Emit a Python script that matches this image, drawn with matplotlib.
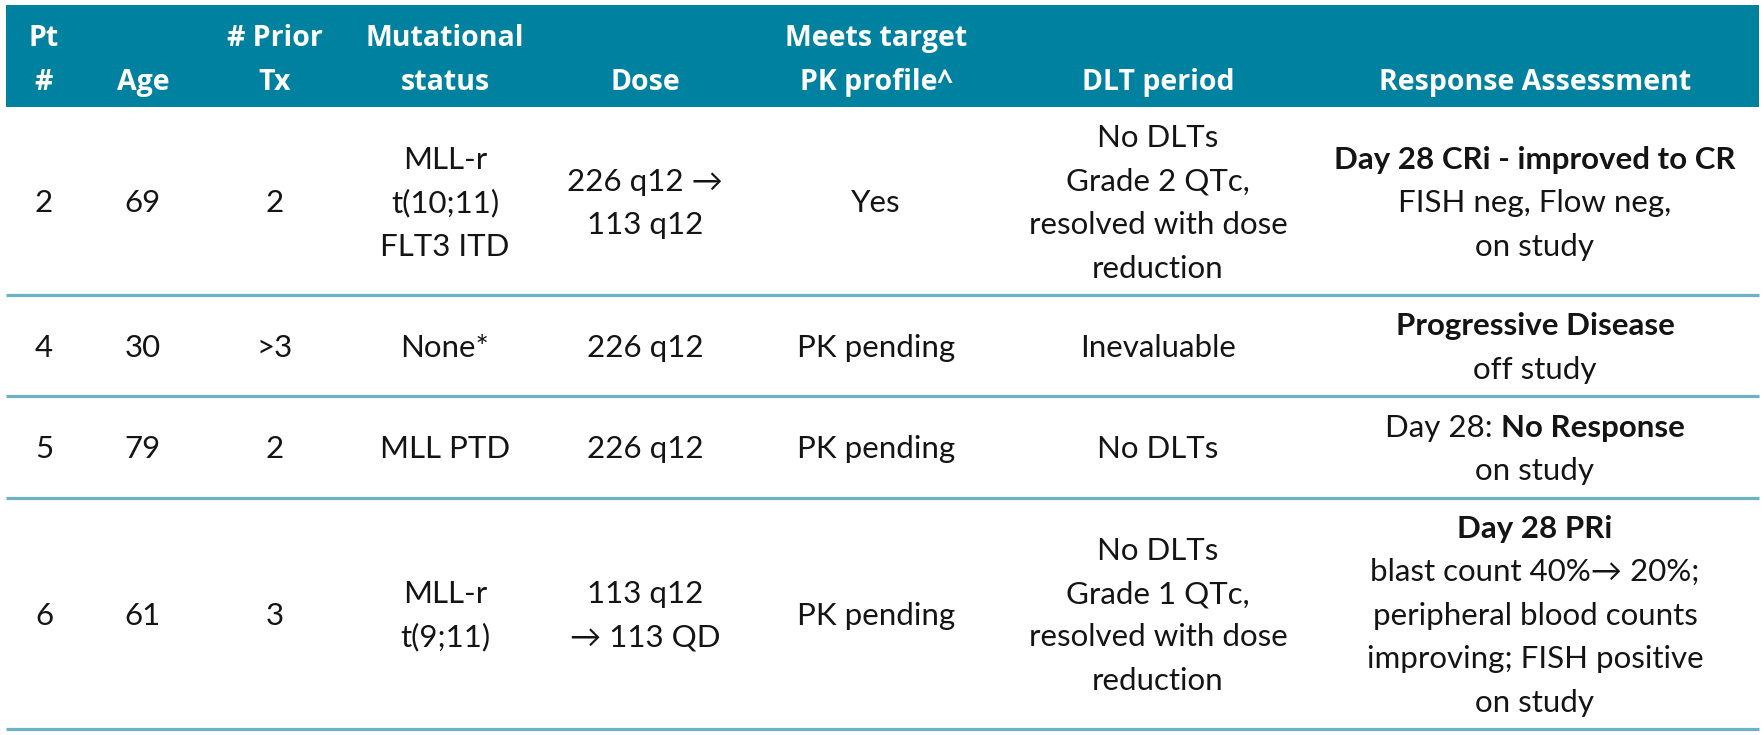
import matplotlib
matplotlib.use("Agg")
import matplotlib.pyplot as plt
from matplotlib.patches import Rectangle

# table content
headers = ["Pt\n#", "\nAge", "# Prior\nTx", "Mutational\nstatus", "\nDose",
           "Meets target\nPK profile^", "\nDLT period", "\nResponse Assessment"]
pt = ["2", "4", "5", "6"]
age = ["69", "30", "79", "61"]
prior_tx = ["2", ">3", "2", "3"]
mutational = ["MLL-r\nt(10;11)\nFLT3 ITD", "None*", "MLL PTD", "MLL-r\nt(9;11)"]
dose = ["226 q12 \u2192\n113 q12", "226 q12", "226 q12", "113 q12\n\u2192 113 QD"]
pk_profile = ["Yes", "PK pending", "PK pending", "PK pending"]
dlt_period = ["No DLTs\nGrade 2 QTc,\nresolved with dose\nreduction",
              "Inevaluable",
              "No DLTs",
              "No DLTs\nGrade 1 QTc,\nresolved with dose\nreduction"]
response = ["**Day 28 CRi - improved to CR**\nFISH neg, Flow neg,\non study",
            "**Progressive Disease**\noff study",
            "Day 28: **No Response**\non study",
            "**Day 28 PRi**\nblast count 40%\u2192 20%;\nperipheral blood counts\nimproving; FISH positive\non study"]
columns = [pt, age, prior_tx, mutational, dose, pk_profile, dlt_period, response]

# layout (pixels)
W, H = 1765, 735
col_x = [44, 143, 275, 445, 645, 876, 1158, 1535]
head_top, head_bot = 5, 107
row_lines = [295, 396, 498, 729]
left, right = 6, 1759
line_gap = 43.5

HEAD_BG = "#00819F"
RULE = "#6DB2C4"
INK = "#141414"
BODY_FONT = ["Lato", "DejaVu Sans"]
HEAD_FONT = ["Open Sans", "DejaVu Sans"]
BODY_SIZE = 22.5
HEAD_SIZE = 20.5

fig = plt.figure(figsize=(W / 100, H / 100), dpi=100)
ax = fig.add_axes([0, 0, 1, 1])
ax.set_xlim(0, W)
ax.set_ylim(H, 0)
ax.axis("off")
renderer = fig.canvas.get_renderer()

ax.add_patch(Rectangle((left, head_top), right - left, head_bot - head_top,
                       facecolor=HEAD_BG, edgecolor="none"))
for y in row_lines:
    ax.plot([left, right], [y, y], color=RULE, lw=2.3, solid_capstyle="butt")

# header
for x, h in zip(col_x, headers):
    for k, line in enumerate(h.split("\n")):
        if line:
            ax.text(x, 38 + k * 44, line, ha="center", va="center", color="white",
                    fontsize=HEAD_SIZE, fontweight="bold", family=HEAD_FONT)


def text_width(s, weight):
    t = ax.text(0, 0, s + "|", fontsize=BODY_SIZE, family=BODY_FONT, fontweight=weight)
    w = t.get_window_extent(renderer).width
    t.remove()
    t = ax.text(0, 0, "|", fontsize=BODY_SIZE, family=BODY_FONT, fontweight=weight)
    w -= t.get_window_extent(renderer).width
    t.remove()
    return w


def draw_cell(x, yc, cell):
    lines = cell.split("\n")
    em = BODY_SIZE * 100 / 72
    y0 = yc - line_gap * (len(lines) - 1) / 2
    for k, line in enumerate(lines):
        parts = line.split("**")
        segs = [(p, "bold" if i % 2 else "normal") for i, p in enumerate(parts) if p]
        widths = [text_width(s, w) for s, w in segs]
        xs = x - sum(widths) / 2
        yb = y0 + k * line_gap + 0.36 * em
        for (s, w), wd in zip(segs, widths):
            ax.text(xs, yb, s, ha="left", va="baseline", color=INK,
                    fontsize=BODY_SIZE, fontweight=w, family=BODY_FONT)
            xs += wd


bounds = [head_bot] + row_lines
for r in range(len(pt)):
    yc = (bounds[r] + bounds[r + 1]) / 2
    for x, col in zip(col_x, columns):
        draw_cell(x, yc, col[r])

fig.savefig("out.png", dpi=100, facecolor="white")
